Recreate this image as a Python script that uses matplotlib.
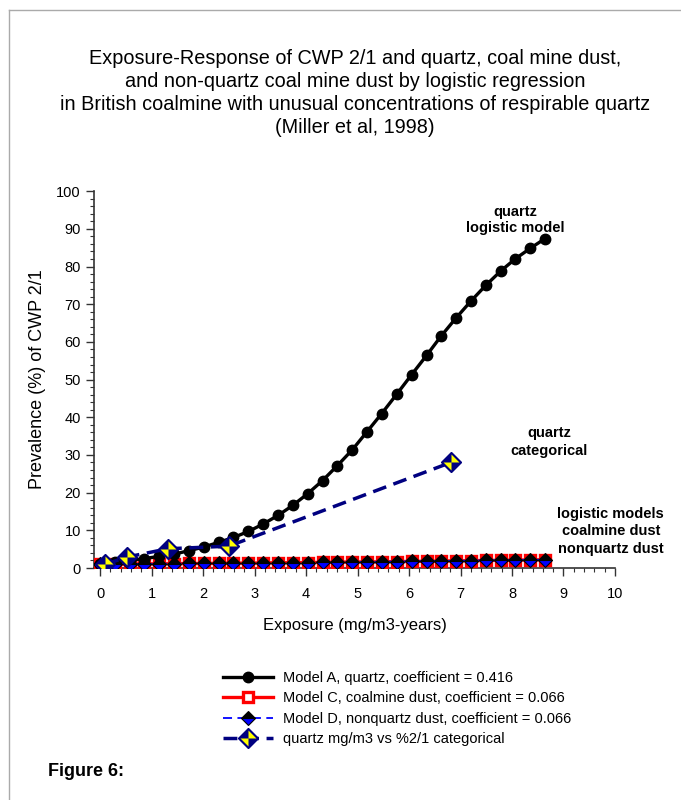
import matplotlib
matplotlib.use("Agg")
import matplotlib.pyplot as plt
from matplotlib.path import Path
from matplotlib.lines import Line2D
from matplotlib.legend_handler import HandlerTuple

plt.rcParams['font.family'] = ['Liberation Sans', 'DejaVu Sans']

# ---------------- data ----------------
exposure = [0.00, 0.29, 0.58, 0.86, 1.15, 1.44, 1.73, 2.02, 2.30, 2.59,
            2.88, 3.17, 3.46, 3.74, 4.03, 4.32, 4.61, 4.90, 5.18, 5.47,
            5.76, 6.05, 6.34, 6.62, 6.91, 7.20, 7.49, 7.78, 8.06, 8.35, 8.64]
model_a_quartz = [1.1, 1.5, 2.0, 2.5, 3.1, 3.7, 4.6, 5.6, 6.8, 8.1,
                  9.7, 11.7, 14.0, 16.6, 19.7, 23.2, 27.2, 31.4, 36.1, 41.0,
                  46.1, 51.3, 56.4, 61.5, 66.3, 70.8, 75.0, 78.8, 82.0, 84.8, 87.4]
model_c_coalmine = [1.0, 1.0, 1.05, 1.1, 1.1, 1.15, 1.2, 1.2, 1.25, 1.3,
                    1.3, 1.35, 1.4, 1.4, 1.45, 1.5, 1.55, 1.6, 1.6, 1.65,
                    1.7, 1.75, 1.8, 1.85, 1.9, 1.95, 2.0, 2.05, 2.1, 2.15, 2.2]
model_d_nonquartz = [1.0, 1.0, 1.05, 1.1, 1.1, 1.15, 1.2, 1.2, 1.25, 1.3,
                     1.3, 1.35, 1.4, 1.4, 1.45, 1.5, 1.55, 1.6, 1.6, 1.65,
                     1.7, 1.75, 1.8, 1.85, 1.9, 1.95, 2.0, 2.05, 2.1, 2.15, 2.2]
cat_exposure = [0.10, 0.52, 1.31, 2.50, 6.81]
cat_prevalence = [1.0, 2.9, 5.1, 5.8, 28.0]

x_ticks = [0, 1, 2, 3, 4, 5, 6, 7, 8, 9, 10]
y_ticks = [0, 10, 20, 30, 40, 50, 60, 70, 80, 90, 100]

labels = ["Model A, quartz, coefficient = 0.416",
          "Model C, coalmine dust, coefficient = 0.066",
          "Model D, nonquartz dust, coefficient = 0.066",
          "quartz mg/m3 vs %2/1 categorical"]

title = ("Exposure-Response of CWP 2/1 and quartz, coal mine dust,\n"
         "and non-quartz coal mine dust by logistic regression\n"
         "in British coalmine with unusual concentrations of respirable quartz\n"
         "(Miller et al, 1998)")

# ---------------- figure ----------------
fig = plt.figure(figsize=(6.81, 8.0), dpi=100)
ax = fig.add_axes([0.138, 0.290, 0.765, 0.471])

navy = '#000080'

la, = ax.plot(exposure, model_a_quartz, color='black', lw=2.4, marker='o',
              ms=7.5, mfc='black', mec='black', zorder=4)
lc, = ax.plot(exposure, model_c_coalmine, color='red', lw=2.4, marker='s',
              ms=7.5, mfc='white', mec='red', mew=2.4, zorder=3)
ld, = ax.plot(exposure, model_d_nonquartz, color='blue', lw=1.3, ls=(0, (5, 3)),
              marker='D', ms=7, fillstyle='top', mfc='black', mfcalt='blue',
              mec='black', mew=0.8, zorder=5)
lq, = ax.plot(cat_exposure, cat_prevalence, color=navy, lw=2.5, ls=(0, (4, 2.2)),
              marker='D', ms=10, mfc=navy, mec=navy, mew=1.0, zorder=6)
hourglass = Path([(0, 0), (0, 1), (1, 0), (0, 0),
                  (0, 0), (0, -1), (-1, 0), (0, 0)],
                 [Path.MOVETO, Path.LINETO, Path.LINETO, Path.CLOSEPOLY,
                  Path.MOVETO, Path.LINETO, Path.LINETO, Path.CLOSEPOLY])
ly, = ax.plot(cat_exposure, cat_prevalence, ls='none', marker=hourglass,
              ms=11.5, mfc='#ffff00', mec='none', zorder=7)

ax.set_xlim(-0.12, 10)
ax.set_ylim(0, 100)
ax.set_xticks(x_ticks)
ax.set_yticks(y_ticks)
ax.set_xticks([v / 5 for v in range(0, 51)], minor=True)
ax.set_yticks(list(range(0, 101, 2)), minor=True)
ax.tick_params(axis='both', which='major', direction='out', length=6,
               width=1, colors='#333333', labelsize=10.5, labelcolor='black')
ax.tick_params(axis='both', which='minor', direction='out', length=3,
               width=0.8, colors='#333333')
ax.tick_params(axis='x', pad=8)
for s in ['top', 'right']:
    ax.spines[s].set_visible(False)
for s in ['left', 'bottom']:
    ax.spines[s].set_color('#333333')
    ax.spines[s].set_linewidth(1.2)

ax.set_xlabel("Exposure (mg/m3-years)", fontsize=12, labelpad=12)
ax.set_ylabel("Prevalence (%) of CWP 2/1", fontsize=13, labelpad=7)

ax.text(8.07, 92.3, "quartz\nlogistic model", ha='center', va='center',
        fontsize=10.5, fontweight='bold', linespacing=1.2)
ax.text(8.72, 33.4, "quartz\ncategorical", ha='center', va='center',
        fontsize=10.5, fontweight='bold', linespacing=1.3)
ax.text(9.92, 9.7, "logistic models\ncoalmine dust\nnonquartz dust", ha='center',
        va='center', fontsize=10.5, fontweight='bold', linespacing=1.3,
        clip_on=False)

fig.text(0.521, 0.884, title, ha='center', va='center', fontsize=14.3,
         linespacing=1.27)

leg = fig.legend([la, lc, ld, (lq, ly)], labels, loc='center',
                 bbox_to_anchor=(0.583, 0.1144), frameon=False, fontsize=10.5,
                 handlelength=3.4, handletextpad=0.7, labelspacing=0.43,
                 handler_map={tuple: HandlerTuple(ndivide=1, pad=0)})

fig.text(0.0705, 0.035, "Figure 6:", fontsize=13, fontweight='bold',
         ha='left', va='center')

# page border lines
fig.add_artist(Line2D([9 / 681, 1.0], [1 - 10 / 800, 1 - 10 / 800],
                      transform=fig.transFigure, color='#aaaaaa', lw=1))
fig.add_artist(Line2D([9 / 681, 9 / 681], [0, 1 - 10 / 800],
                      transform=fig.transFigure, color='#aaaaaa', lw=1))

fig.savefig("out.png", dpi=100)
